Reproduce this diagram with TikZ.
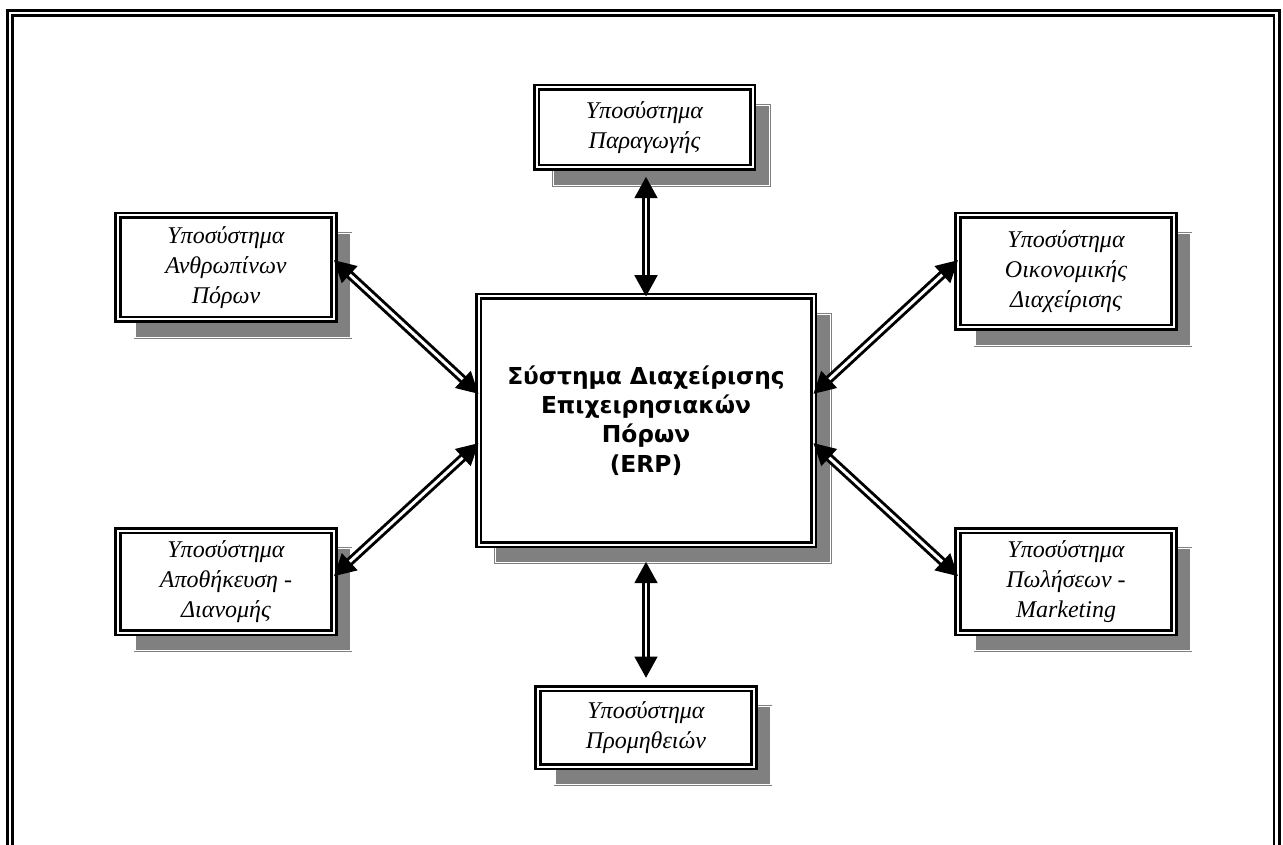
\documentclass[tikz,border=0pt]{standalone}
\usepackage{fontspec}
\setmainfont{Liberation Serif}
\newfontfamily\erpfont{DejaVu Sans}
\usetikzlibrary{positioning}
\usetikzlibrary{calc}
\usetikzlibrary{arrows.meta}
\definecolor{shgray}{RGB}{128,128,128}

\tikzset{
    subbox/.style={draw, double=white, line width=1.9pt, double distance=1.5pt, fill=white,
        align=center, outer sep=0pt, inner sep=2pt,
        preaction={fill=shgray, draw=shgray, double=white, line width=0.6pt, double distance=0.8pt,
            transform canvas={xshift=12.75pt, yshift=-13.5pt}}},
    biarrow/.style={double=white, line width=2.2pt, double distance=2.2pt,
        {Triangle[width=17pt,length=16pt]}-{Triangle[width=17pt,length=16pt]}}
}

\begin{document}
\begin{tikzpicture}[x=0.75pt, y=-0.75pt, every node/.style={font=\itshape\fontsize{18}{22.5}\selectfont}]
    \useasboundingbox (0,0) rectangle (1283,845);
    % outer frame
    \draw[double=white, line width=1.9pt, double distance=2.2pt] (10,13) rectangle (1276.5,852);

    % central system
    \node[subbox, minimum width=251.25pt, minimum height=186pt,
          font=\erpfont\bfseries\fontsize{17.5}{22}\selectfont] (erp) at (646,420.5)
        {Σύστημα Διαχείρισης\\Επιχειρησιακών\\Πόρων\\(ERP)};

    % subsystems
    \foreach \nm/\x/\y/\h/\txt in {
        prod/644.5/127.5/60/{Υποσύστημα\\Παραγωγής},
        hr/226/267.5/78/{Υποσύστημα\\Ανθρωπίνων\\Πόρων},
        fin/1066/271.5/84/{Υποσύστημα\\Οικονομικής\\Διαχείρισης},
        wh/226/581.5/76.5/{Υποσύστημα\\Αποθήκευση -\\Διανομής},
        sales/1066/581.5/76.5/{Υποσύστημα\\Πωλήσεων -\\Marketing},
        proc/646/727.5/58.5/{Υποσύστημα\\Προμηθειών}} {
        \node[subbox, minimum width=162pt, minimum height=\h pt] (\nm) at (\x,\y) {\txt};
    }

    % links
    \draw[biarrow, shorten <=7pt] (prod.south -| erp.north) -- (erp.north);
    \draw[biarrow, shorten <=13pt, shorten >=8pt] (erp.south) -- (erp.south |- proc.north);
    \draw[biarrow] ([yshift=5.5pt]hr.east) -- ([yshift=20pt]erp.west);
    \draw[biarrow] ([yshift=-17pt]erp.west) -- ([yshift=4pt]wh.east);
    \draw[biarrow] ([yshift=8.5pt]fin.west) -- ([yshift=20pt]erp.east);
    \draw[biarrow] ([yshift=-17pt]erp.east) -- ([yshift=4pt]sales.west);
\end{tikzpicture}
\end{document}
